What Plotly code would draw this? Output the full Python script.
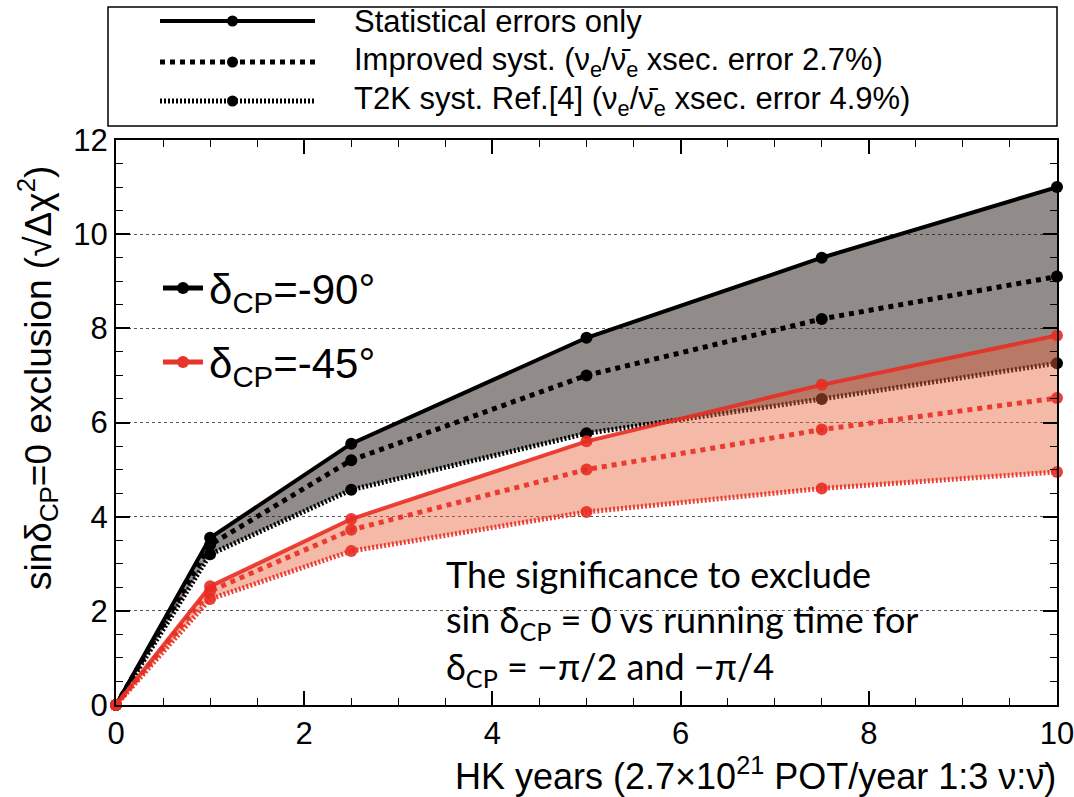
import plotly.graph_objects as go

W, H = 1074, 797

# ---------------- data ----------------
years = [0, 1, 2.5, 5, 7.5, 10]
m90_stat = [0, 3.55, 5.55, 7.8, 9.5, 11.0]
m90_impr = [0, 3.4, 5.2, 7.0, 8.2, 9.1]
m90_t2k = [0, 3.2, 4.57, 5.77, 6.5, 7.26]
m45_stat = [0, 2.52, 3.95, 5.6, 6.8, 7.85]
m45_impr = [0, 2.42, 3.72, 5.0, 5.85, 6.52]
m45_t2k = [0, 2.25, 3.27, 4.1, 4.6, 4.95]

legend_labels = [
    "Statistical errors only",
    "Improved syst. (ν<sub>e</sub>/ν̄<sub>e</sub> xsec. error 2.7%)",
    "T2K syst. Ref.[4] (ν<sub>e</sub>/ν̄<sub>e</sub> xsec. error 4.9%)",
]
inset_labels = ["δ<sub>CP</sub>=-90°", "δ<sub>CP</sub>=-45°"]
note_lines = [
    "The significance to exclude",
    "sin δ<sub>CP</sub> = 0 vs running time for",
    "δ<sub>CP</sub> = −π/2 and −π/4",
]

BLACK = "#000000"
RED = "rgba(232,45,35,0.9)"
RED_SOLID = "#e8352a"
GRAY_FILL = "rgba(35,25,20,0.5)"
RED_FILL = "rgba(232,100,60,0.45)"
FONT = "Liberation Sans, Arial, sans-serif"

DASHES = ["solid", "5px,5px", "2px,2px"]
WIDTHS = [4, 5, 5]

def px(x):
    return x / W

def py(y):
    return 1 - y / H

fig = go.Figure()

def band(lo, hi, color):
    fig.add_trace(go.Scatter(x=years, y=lo, mode="lines", line=dict(width=0),
                             showlegend=False, hoverinfo="skip"))
    fig.add_trace(go.Scatter(x=years, y=hi, mode="lines", line=dict(width=0),
                             fill="tonexty", fillcolor=color,
                             showlegend=False, hoverinfo="skip"))

def lines(series, color):
    for ys, d, w in zip(series, DASHES, WIDTHS):
        fig.add_trace(go.Scatter(x=years, y=ys, mode="lines+markers",
                                 line=dict(color=color, width=w, dash=d),
                                 marker=dict(color=color, size=12),
                                 cliponaxis=False, showlegend=False))

band(m90_t2k, m90_stat, GRAY_FILL)
lines([m90_stat, m90_impr, m90_t2k], BLACK)
band(m45_t2k, m45_stat, RED_FILL)
lines([m45_stat, m45_impr, m45_t2k], RED)

axis_common = dict(
    showline=True, linecolor="black", linewidth=2, mirror="allticks",
    ticks="inside", ticklen=14, tickwidth=1.5, tickcolor="black",
    tickfont=dict(family=FONT, size=31, color="black"),
    zeroline=False, automargin=False, ticklabeloverflow="allow",
)

fig.update_xaxes(range=[0, 10], dtick=2, tick0=0, showgrid=False,
                 domain=[px(116), px(1057)],
                 minor=dict(dtick=0.5, ticks="inside", ticklen=7, tickcolor="black", tickwidth=1.2),
                 **axis_common)
fig.update_yaxes(range=[0, 12], dtick=2, tick0=0, showgrid=True,
                 gridcolor="#555", gridwidth=1, griddash="dot",
                 domain=[py(705), py(140)],
                 minor=dict(dtick=0.5, ticks="inside", ticklen=7, tickcolor="black", tickwidth=1.2),
                 **axis_common)

shapes = []
annotations = []

# top legend box
shapes.append(dict(type="rect", xref="paper", yref="paper",
                   x0=px(108), x1=px(1057), y0=py(126), y1=py(7),
                   line=dict(color="black", width=1.5), fillcolor="white"))
rows_y = [21, 62, 101]
for lab, ry, d, w in zip(legend_labels, rows_y, DASHES, WIDTHS):
    shapes.append(dict(type="line", xref="paper", yref="paper",
                       x0=px(160), x1=px(315), y0=py(ry), y1=py(ry),
                       line=dict(color="black", width=w, dash=d)))
    shapes.append(dict(type="circle", xref="paper", yref="paper",
                       x0=px(227), x1=px(238), y0=py(ry + 5.5), y1=py(ry - 5.5),
                       line=dict(color="black", width=0), fillcolor="black"))
    annotations.append(dict(xref="paper", yref="paper", x=px(352), y=py(ry),
                            xanchor="left", yanchor="middle", text=lab, showarrow=False,
                            font=dict(family=FONT, size=31, color="black")))

# inset legend
inset_y = [288, 362]
inset_colors = [BLACK, RED_SOLID]
for lab, ry, c in zip(inset_labels, inset_y, inset_colors):
    shapes.append(dict(type="line", xref="paper", yref="paper",
                       x0=px(163), x1=px(203), y0=py(ry), y1=py(ry),
                       line=dict(color=c, width=5)))
    shapes.append(dict(type="circle", xref="paper", yref="paper",
                       x0=px(177), x1=px(189), y0=py(ry + 6), y1=py(ry - 6),
                       line=dict(color=c, width=0), fillcolor=c))
    annotations.append(dict(xref="paper", yref="paper", x=px(207), y=py(ry + 4),
                            xanchor="left", yanchor="middle", text=lab, showarrow=False,
                            font=dict(family=FONT, size=42, color="black")))

# note text
for i, t in enumerate(note_lines):
    annotations.append(dict(xref="paper", yref="paper", x=px(444), y=py(574 + 47 * i),
                            xanchor="left", yanchor="middle", text=t, showarrow=False,
                            font=dict(family="Lato, Open Sans, sans-serif", size=36, color="black")))

# axis titles
annotations.append(dict(xref="paper", yref="paper", x=px(1058), y=py(774),
                        xanchor="right", yanchor="middle",
                        text="HK years (2.7×10<sup>21</sup> POT/year 1:3 ν:ν̄)",
                        showarrow=False, font=dict(family=FONT, size=36, color="black")))
annotations.append(dict(xref="paper", yref="paper", x=px(38), y=py(378),
                        xanchor="center", yanchor="middle", textangle=-90,
                        text="sinδ<sub>CP</sub>=0 exclusion (√Δχ<sup>2</sup>)",
                        showarrow=False, font=dict(family=FONT, size=37, color="black")))

fig.update_layout(
    width=W, height=H, autosize=False,
    margin=dict(l=0, r=0, t=0, b=0),
    paper_bgcolor="white", plot_bgcolor="white",
    showlegend=False,
    shapes=shapes, annotations=annotations,
)

fig.write_html("out.html")
